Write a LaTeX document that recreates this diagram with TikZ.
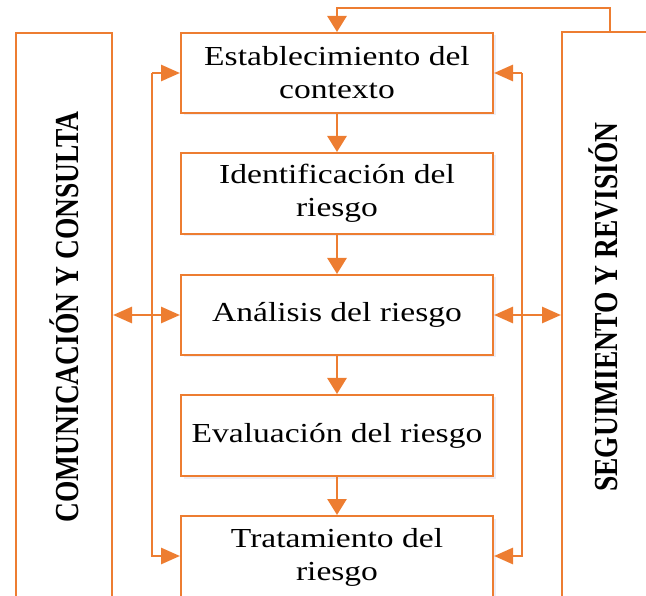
\documentclass[tikz,border=0pt]{standalone}
\usepackage{fontspec}
\setmainfont{Liberation Serif}[FakeStretch=1.22]
\newfontfamily\vfont{Liberation Serif}
\usetikzlibrary{arrows.meta,shadows}
\definecolor{org}{HTML}{ED7D31}
\begin{document}
\begin{tikzpicture}[x=1pt,y=-1pt,
  box/.style={draw=org,line width=2pt,fill=white,minimum width=312pt,align=center,
    font=\fontsize{27.5}{33}\selectfont,inner sep=0pt,
    drop shadow={shadow xshift=2.5pt,shadow yshift=-2.5pt,fill=blue!30!gray!18,opacity=0.6}},
  side/.style={draw=org,line width=2pt,fill=white,inner sep=0pt},
  conn/.style={draw=org,line width=2.8pt},
  vtip/.style={-{Triangle[length=16pt,width=19pt]}},
  htip/.style={-{Triangle[length=19pt,width=16pt]}},
  dtip/.style={{Triangle[length=19pt,width=16pt]}-{Triangle[length=19pt,width=16pt]}},
  vlab/.style={rotate=90,font=\vfont\fontsize{27.5}{33}\selectfont\bfseries,inner sep=0pt}]
\useasboundingbox (0,0) rectangle (646,596);
\clip (0,0) rectangle (646,596);
% side panels
\node[side,minimum width=96pt,minimum height=567pt] (cc) at (64,316.5) {};
\node[side,minimum width=98pt,minimum height=568pt] (sr) at (611,316) {};
\node[vlab] (cct) at (64,317) {\scalebox{1}[1.22]{COMUNICACIÓN Y CONSULTA}};
\node[vlab] (srt) at (603,307) {\scalebox{1}[1.22]{SEGUIMIENTO Y REVISIÓN}};
% process boxes
\node[box,minimum height=80pt] (b1) at (337,73) {Establecimiento del\\contexto};
\node[box,minimum height=81pt] (b2) at (337,193.5) {Identificación del\\riesgo};
\node[box,minimum height=80pt] (b3) at (337,315) {Análisis del riesgo};
\node[box,minimum height=81pt] (b4) at (337,435.5) {Evaluación del riesgo};
\node[box,minimum height=82pt] (b5) at (337,557) {Tratamiento del\\riesgo};
% downward flow
\draw[conn,vtip] (b1) -- (b2);
\draw[conn,vtip] (b2) -- (b3);
\draw[conn,vtip] (b3) -- (b4);
\draw[conn,vtip] (b4) -- (b5);
% left feedback line
\coordinate (L1) at (152,73);
\coordinate (L5) at (152,556);
\draw[conn,htip] (L1) -- (b1.west);
\draw[conn,htip] (L1) -- (L5) -- (L5 -| b5.west);
% right feedback line
\coordinate (R1) at (522,73);
\coordinate (R5) at (522,556);
\draw[conn,htip] (R1) -- (b1.east);
\draw[conn,htip] (R1) -- (R5) -- (R5 -| b5.east);
% middle double arrows
\draw[conn,dtip] (cc.east |- b3.west) -- (b3.west);
\draw[conn,dtip] (b3.east) -- (sr.west |- b3.east);
% top loop
\coordinate (T) at (610,8);
\draw[conn,vtip] (sr.north -| T) -- (T) -- (T -| b1.north) -- (b1.north);
\end{tikzpicture}
\end{document}
